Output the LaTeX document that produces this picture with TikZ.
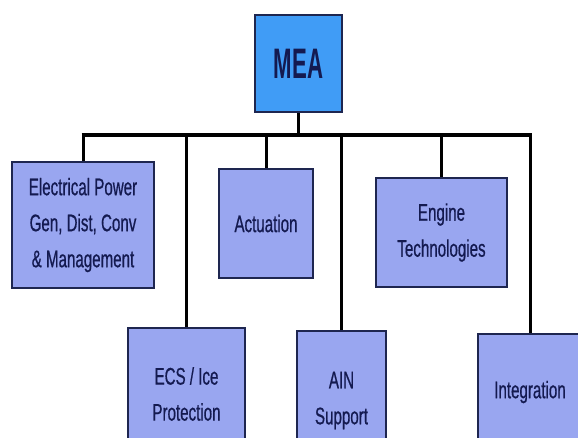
\documentclass[tikz,border=0pt]{standalone}
\usepackage{fontspec}
\setmainfont[FakeStretch=0.63,FakeBold=0.6]{Liberation Sans}
\newfontfamily\meafont[FakeStretch=0.52]{Liberation Sans Bold}
\usepackage{xcolor}

\definecolor{meablue}{RGB}{64,156,246}
\definecolor{boxblue}{RGB}{153,166,240}
\definecolor{boxedge}{RGB}{30,38,80}
\definecolor{boxtext}{RGB}{20,26,80}

\tikzset{
  unit/.style={draw=boxedge,line width=1.5pt,fill=boxblue,text=boxtext,align=center,
    inner sep=0pt,font=\fontsize{18}{27}\selectfont},
  top/.style={draw=boxedge,line width=1.5pt,fill=meablue,text=boxtext,inner sep=0pt,
    font=\meafont\fontsize{32}{36}\selectfont},
  bus/.style={line width=3pt},
  stem/.style={line width=2.25pt}
}

\begin{document}
\begin{tikzpicture}[x=0.75pt,y=0.75pt,yscale=-1,xscale=1]
\clip (0,0) rectangle (578,437);
\fill[white] (0,0) rectangle (578,437);

%Top box
\node[top,minimum width=65.25pt,minimum height=72.75pt] (mea) at (298.5,63.5) {MEA};

%Upper row
\node[unit,minimum width=106.5pt,minimum height=94.5pt] (elec) at (83,225)
  {Electrical Power\\Gen, Dist, Conv\\\& Management};
\node[unit,minimum width=70.5pt,minimum height=81.75pt] (act) at (266,223.5) {Actuation};
\node[unit,minimum width=98.25pt,minimum height=81.75pt] (eng) at (441.5,232.5)
  {Engine\\Technologies};

%Lower row
\node[unit,minimum width=87.75pt,minimum height=99pt] (ecs) at (186.5,394)
  {ECS / Ice\\Protection};
\node[unit,minimum width=66.75pt,minimum height=104.25pt] (ain) at (341.5,400.5)
  {AIN\\Support};
\node[unit,minimum width=78pt,minimum height=87pt] (integ) at (530,392) {Integration};

%Bus
\coordinate (busL) at (83,135);
\coordinate (busR) at (531,135);
\draw[bus] ([xshift=-1.1pt]busL) -- ([xshift=1.1pt]busR);

%Stems
\draw[stem] (mea.south) -- (mea.south |- busL);
\foreach \n in {elec,act,eng,ecs,ain,integ}
  \draw[stem] (\n.north) -- (\n.north |- busL);

\end{tikzpicture}
\end{document}
